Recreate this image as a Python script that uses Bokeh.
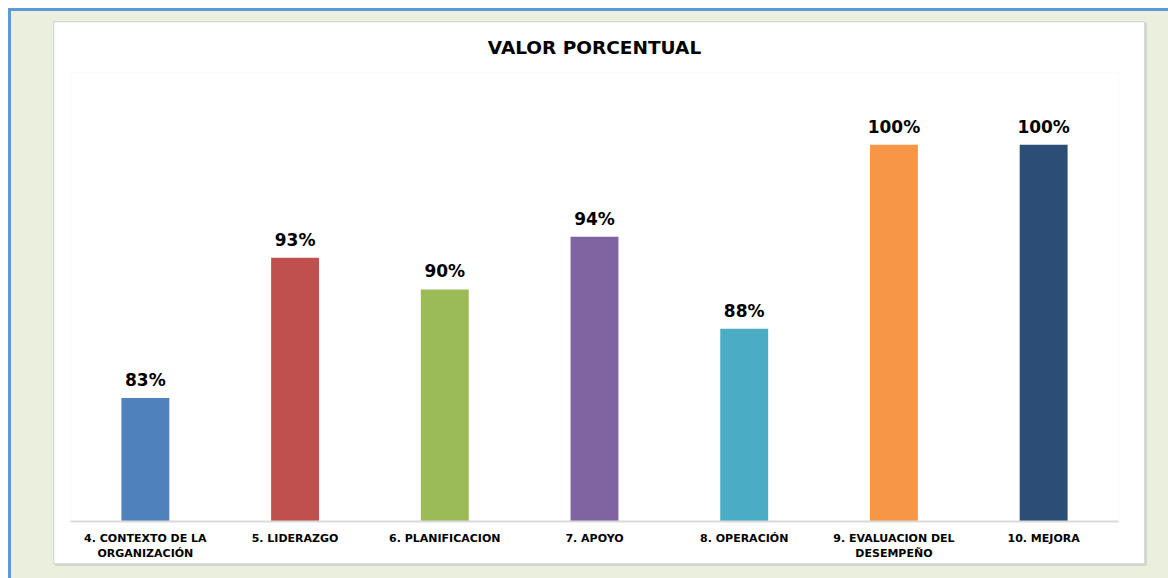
from bokeh.plotting import figure
from bokeh.layouts import column
from bokeh.models import ColumnDataSource, Range1d
from bokeh.core.properties import value
from bokeh.embed import file_html
from bokeh.resources import INLINE

title_text = "VALOR PORCENTUAL"
categories = ["4. CONTEXTO DE LA\nORGANIZACIÓN", "5. LIDERAZGO", "6. PLANIFICACION",
              "7. APOYO", "8. OPERACIÓN", "9. EVALUACION DEL\nDESEMPEÑO", "10. MEJORA"]
values = [0.832, 0.925, 0.904, 0.939, 0.878, 1.0, 1.0]
labels = ["83%", "93%", "90%", "94%", "88%", "100%", "100%"]
colors = ["#4F81BD", "#C0504D", "#9BBB59", "#8064A2", "#4BACC6", "#F79646", "#2C4D75"]

src = ColumnDataSource(dict(cat=categories, val=values, lab=labels, col=colors))

FONT = "DejaVu Sans"

p = figure(x_range=categories, y_range=Range1d(0.75, 1.048), width=1090, height=541,
           output_backend="svg", toolbar_location=None,
           min_border_left=16, min_border_right=26, min_border_top=49, min_border_bottom=42,
           background_fill_color="white", border_fill_color="white",
           outline_line_color=None, title=title_text)
p.title.align = "center"
p.title.vertical_align = "middle"
p.title.standoff = 27
p.title.offset = 4
p.title.text_font = FONT
p.title.text_font_size = "18.5px"
p.title.text_font_style = "bold"
p.title.text_color = "#000000"

p.vbar(x="cat", top="val", bottom=0.75, width=0.32, color="col", line_color=None, source=src)
p.text(x="cat", y="val", text="lab", source=src, text_align="center", text_baseline="bottom",
       y_offset=-8, text_font=value(FONT), text_font_size="17px", text_font_style="bold",
       text_color="#000000")

p.yaxis.visible = False
p.xgrid.grid_line_color = None
p.ygrid.grid_line_color = None
ax = p.xaxis[0]
ax.axis_line_color = "#D9D9D9"
ax.axis_line_width = 2
ax.major_tick_line_color = None
ax.minor_tick_line_color = None
ax.major_tick_out = 0
ax.major_tick_in = 0
ax.major_label_text_font = FONT
ax.major_label_text_font_size = "11px"
ax.major_label_text_font_style = "bold"
ax.major_label_text_color = "#000000"
ax.major_label_standoff = 10
ax.major_label_orientation = "horizontal"

p.margin = (14, 0, 0, 46)
p.styles = {"box-shadow": "0 0 0 1px #D9D9D9, 2px 2px 0 1px #D3D6CC"}

layout = column(p, width=1160, height=570,
                styles={"background-color": "#EBF0DE",
                        "box-shadow": "inset 3px 3px 0 #5B9BD5"})
layout.margin = (8, 0, 0, 8)

open("out.html", "w").write(file_html(layout, INLINE))
